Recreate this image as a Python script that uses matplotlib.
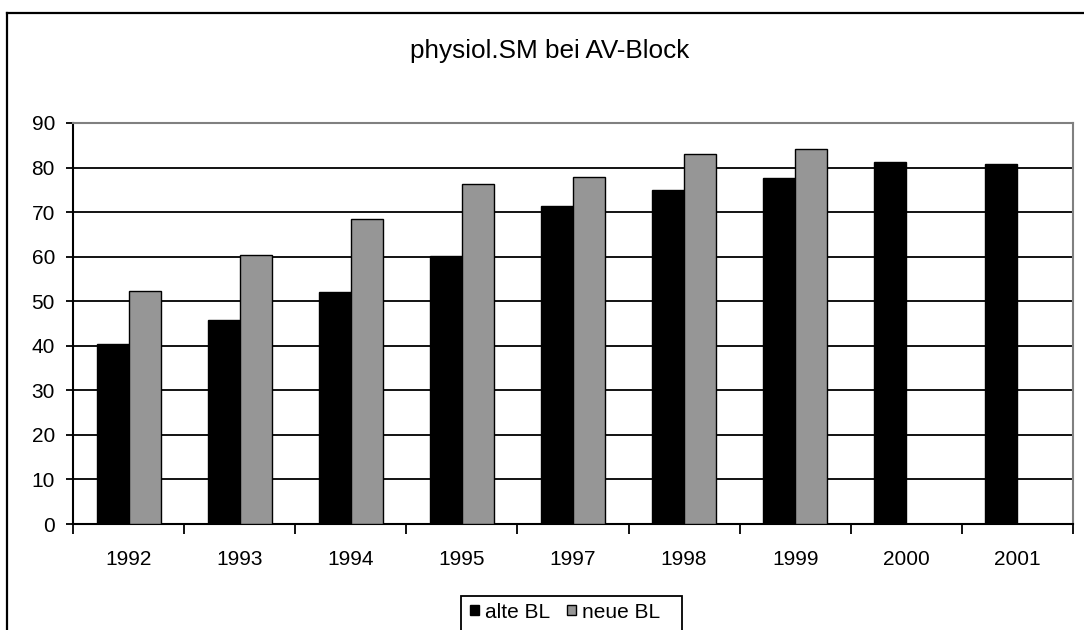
import matplotlib
matplotlib.use("Agg")
import matplotlib.pyplot as plt
import numpy as np
from matplotlib.patches import Rectangle
from matplotlib.lines import Line2D

plt.rcParams['font.family'] = ['Liberation Sans', 'DejaVu Sans']

years = ['1992', '1993', '1994', '1995', '1997', '1998', '1999', '2000', '2001']
alte_bl = [40.3, 45.8, 52.1, 60.1, 71.4, 75.0, 77.6, 81.2, 80.8]
neue_bl = [52.4, 60.4, 68.5, 76.2, 77.9, 83.0, 84.2, np.nan, np.nan]
series_names = ['alte BL', 'neue BL']
title = 'physiol.SM bei AV-Block'
yticks = list(range(0, 91, 10))

W, H = 1084, 630
fig = plt.figure(figsize=(W / 100, H / 100), dpi=100)
ax = fig.add_axes([73 / W, 1 - 524 / H, (1073 - 73) / W, (524 - 123) / H])

x = np.arange(len(years)) + 0.5
bw = 0.288
c_alte = '#000000'
c_neue = '#969696'
ax.bar(x - bw / 2, alte_bl, bw, color=c_alte, edgecolor='black', linewidth=1.0, zorder=3)
ax.bar(x + bw / 2, neue_bl, bw, color=c_neue, edgecolor='black', linewidth=1.0, zorder=3)

ax.set_xlim(0, len(years))
ax.set_ylim(0, 90)
ax.set_yticks(yticks)
ax.yaxis.grid(True, color='black', linewidth=1.3, zorder=1)
ax.set_axisbelow(True)

ax.set_xticks(np.arange(len(years) + 1))
ax.set_xticklabels([])
ax.set_xticks(x, minor=True)
ax.set_xticklabels(years, minor=True, fontsize=15)
ax.tick_params(axis='x', which='major', direction='out', length=7, width=1.3, color='black')
ax.tick_params(axis='x', which='minor', length=0, pad=19)
ax.tick_params(axis='y', direction='out', length=5, width=1.3, labelsize=15, pad=8)

for s in ['left', 'bottom']:
    ax.spines[s].set_color('black')
    ax.spines[s].set_linewidth(1.5)
for s in ['top', 'right']:
    ax.spines[s].set_color('#808080')
    ax.spines[s].set_linewidth(1.5)

fig.text(550 / W, 1 - 58 / H, title, ha='center', va='baseline', fontsize=18.8)

# figure border
fig.add_artist(Line2D([7 / W, 7 / W], [-0.05, 1 - 13 / H], transform=fig.transFigure,
                      color='black', linewidth=1.6))
fig.add_artist(Line2D([7 / W, 1.05], [1 - 13 / H, 1 - 13 / H], transform=fig.transFigure,
                      color='black', linewidth=1.6))

# legend
fig.add_artist(Rectangle((461 / W, -0.05), (682 - 461) / W, (1 - 596 / H) + 0.05,
                         transform=fig.transFigure, facecolor='white', edgecolor='black',
                         linewidth=1.3))
handles = [Rectangle((0, 0), 1, 1, facecolor=c_alte, edgecolor='black', linewidth=1),
           Rectangle((0, 0), 1, 1, facecolor=c_neue, edgecolor='black', linewidth=1)]
leg = fig.legend(handles, series_names, loc='center left',
                 bbox_to_anchor=(470 / W, 1 - 612 / H), ncol=2, frameon=False,
                 fontsize=15, handlelength=0.42, handleheight=0.3, handletextpad=0.3,
                 columnspacing=0.8, borderpad=0, borderaxespad=0)

fig.savefig('out.png', dpi=100)
